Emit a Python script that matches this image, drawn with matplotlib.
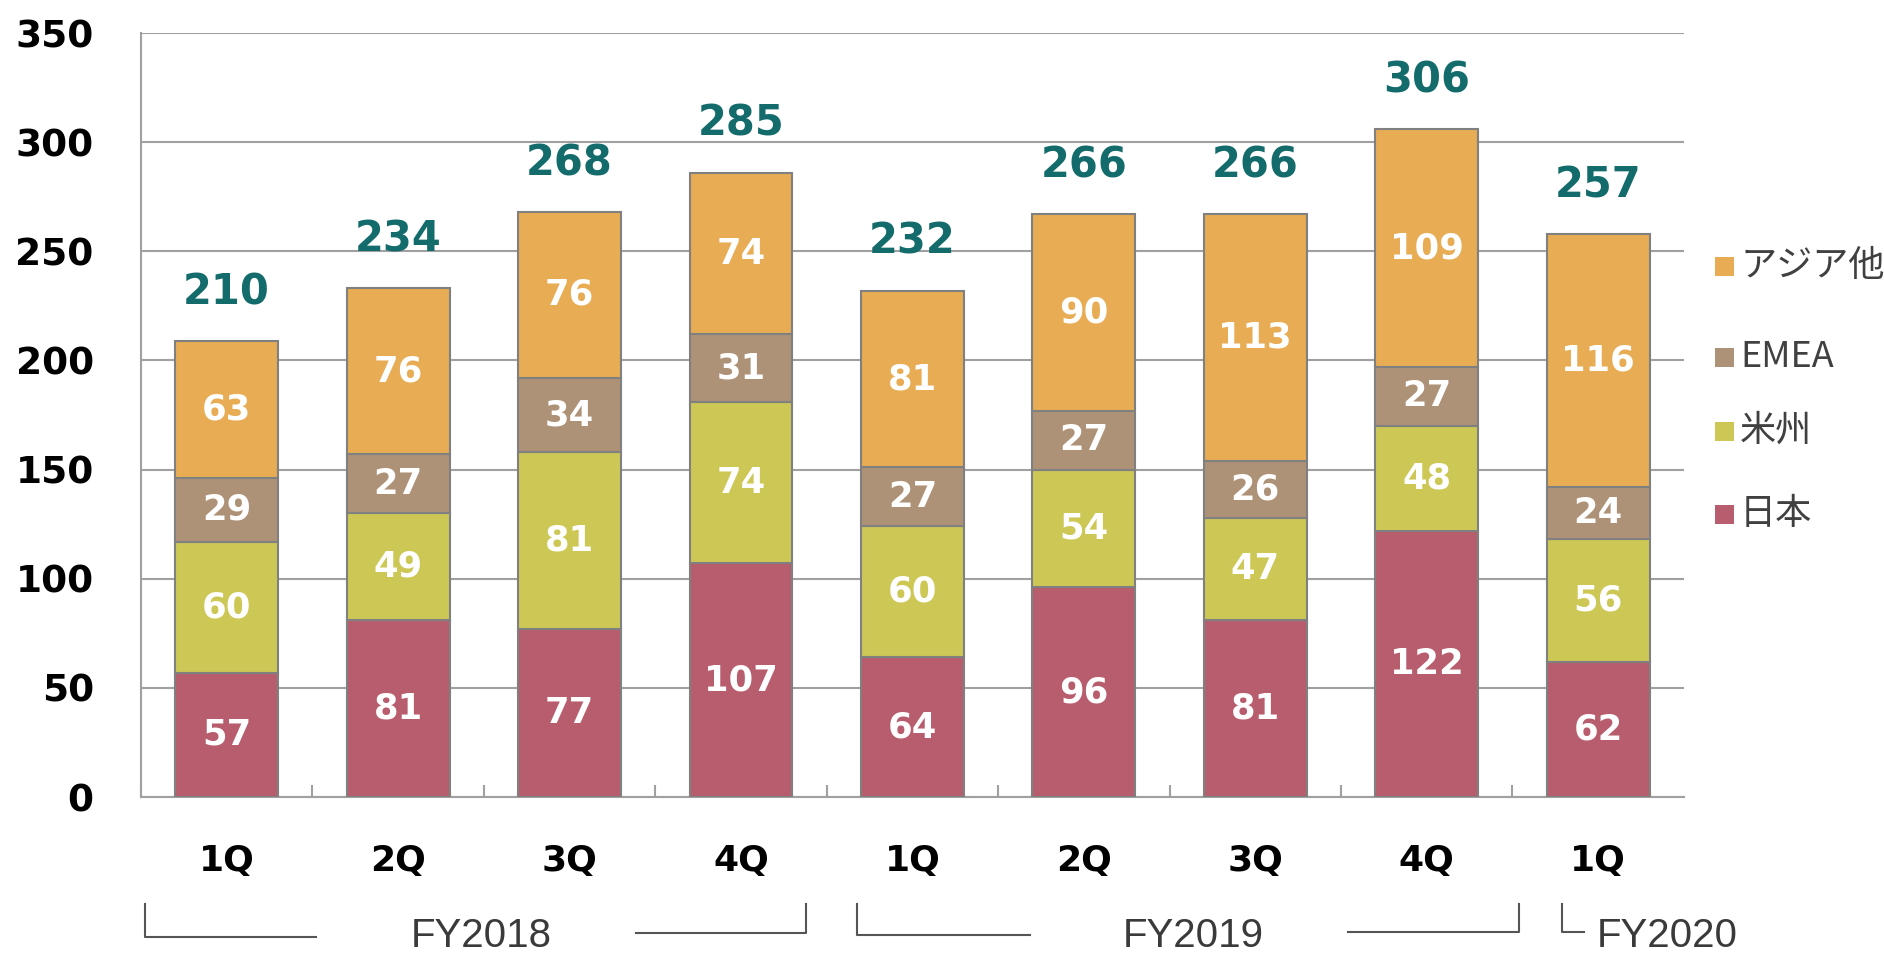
import numpy as np
import matplotlib
matplotlib.use('Agg')
import matplotlib.pyplot as plt
from matplotlib.patches import Rectangle

# データ
quarters = ['1Q', '2Q', '3Q', '4Q', '1Q', '2Q', '3Q', '4Q', '1Q']
japan = [57, 81, 77, 107, 64, 96, 81, 122, 62]
americas = [60, 49, 81, 74, 60, 54, 47, 48, 56]
emea = [29, 27, 34, 31, 27, 27, 26, 27, 24]
asia = [63, 76, 76, 74, 81, 90, 113, 109, 116]
totals = [210, 234, 268, 285, 232, 266, 266, 306, 257]
series_names = ['日本', '米州', 'EMEA', 'アジア他']
fiscal_years = ['FY2018', 'FY2019', 'FY2020']

colors = ['#B85D6E', '#CDC856', '#AE9277', '#E8AC55']
teal = '#146B6B'
grid_gray = '#A0A0A0'

plt.rcParams['font.family'] = ['DejaVu Sans']

fig = plt.figure(figsize=(18.84, 9.55), dpi=100)
ax = fig.add_axes([0.0748, 0.1654, 0.8190, 0.8000])

x = np.arange(len(quarters))
bottom = np.zeros(len(quarters))
for vals, col in zip([japan, americas, emea, asia], colors):
    vals = np.array(vals)
    ax.bar(x, vals, width=0.6, bottom=bottom, color=col,
           edgecolor='#808080', linewidth=1.5, zorder=3)
    for xi, b, v in zip(x, bottom, vals):
        ax.text(xi, b + v / 2, str(v), ha='center', va='center',
                color='white', fontsize=25.5, fontweight='bold', zorder=4)
    bottom += vals

# 合計
for xi, top, t in zip(x, bottom, totals):
    ax.annotate(str(t), (xi, top), xytext=(0, 20), textcoords='offset points',
                ha='center', va='bottom', color=teal, fontsize=30,
                fontweight='bold')

ax.set_xlim(-0.5, 8.5)
ax.set_ylim(0, 350)
ax.set_yticks(np.arange(0, 351, 50))
ax.yaxis.grid(True, color=grid_gray, linewidth=1.5, zorder=0)
ax.set_axisbelow(True)
for s in ['top', 'right']:
    ax.spines[s].set_visible(False)
for s in ['left', 'bottom']:
    ax.spines[s].set_color(grid_gray)
    ax.spines[s].set_linewidth(1.5)

ax.set_xticks(x)
ax.set_xticklabels(quarters)
ax.set_xticks(np.arange(-0.5, 8.0, 1), minor=True)
ax.tick_params(axis='x', which='major', length=0, pad=34, labelsize=26)
ax.tick_params(axis='x', which='minor', direction='in', length=9,
               color=grid_gray, width=1.5)
ax.tick_params(axis='y', length=0, pad=34, labelsize=27)
for lbl in ax.get_xticklabels() + ax.get_yticklabels():
    lbl.set_fontweight('bold')
for lbl in ax.get_yticklabels():
    lbl.set_y(lbl.get_position()[1])
    lbl.set_verticalalignment('center_baseline')

# 年度ブラケット
tr = ax.get_xaxis_transform()
line_kw = dict(color='#555555', linewidth=1.5, transform=tr, clip_on=False)
ax.plot([-0.477, -0.477, 0.521], [-0.140, -0.183, -0.183], **line_kw)
ax.plot([2.388, 3.379, 3.379], [-0.178, -0.178, -0.140], **line_kw)
ax.plot([3.677, 3.677, 4.686], [-0.140, -0.180, -0.180], **line_kw)
ax.plot([6.541, 7.538, 7.538], [-0.176, -0.176, -0.140], **line_kw)
ax.plot([7.789, 7.789, 7.917], [-0.140, -0.177, -0.177], **line_kw)
fy_font = ['Liberation Sans Narrow', 'Liberation Sans', 'DejaVu Sans']
fy_kw = dict(transform=tr, va='center', fontsize=29, color='#3A3A3A',
             family=fy_font)
ax.text(1.483, -0.182, fiscal_years[0], ha='center', **fy_kw)
ax.text(5.637, -0.182, fiscal_years[1], ha='center', **fy_kw)
ax.text(7.99, -0.182, fiscal_years[2], ha='left', **fy_kw)

# 凡例
W, H = 1884, 955
leg_y = [266, 357, 431, 514]
for name, col, yy in zip(series_names[::-1], colors[::-1], leg_y):
    fig.patches.append(Rectangle((1715 / W, (H - yy - 10) / H), 19 / W, 19 / H,
                                 transform=fig.transFigure, facecolor=col,
                                 edgecolor='none'))
    fig.text(1740 / W, (H - yy) / H, name, ha='left', va='center',
             fontsize=26, color='#404040',
             family=['Noto Sans CJK JP', 'DejaVu Sans'])

fig.savefig('out.png', dpi=100)
